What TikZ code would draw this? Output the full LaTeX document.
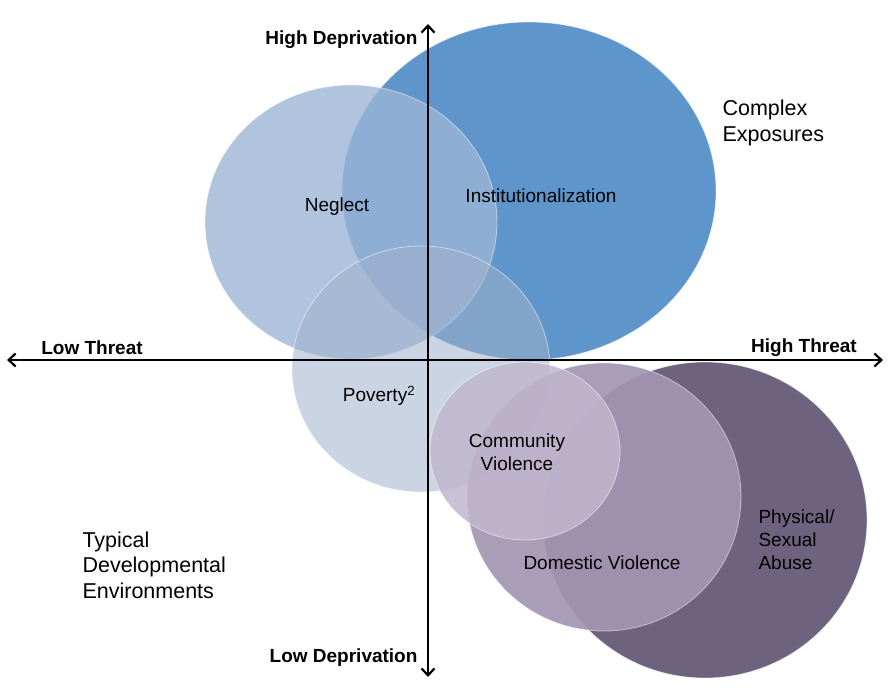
\documentclass[tikz,border=0pt]{standalone}
\usepackage{fontspec}
\setmainfont{Liberation Sans}
\usetikzlibrary{arrows.meta}
\definecolor{instblue}{RGB}{94,149,203}
\definecolor{neglectblue}{RGB}{156,181,214}
\definecolor{povertyblue}{RGB}{160,177,204}
\definecolor{abusepurple}{RGB}{110,99,126}
\definecolor{dompurple}{RGB}{162,149,178}
\definecolor{commpurple}{RGB}{192,183,207}

\tikzset{
  blob/.style={draw=white, draw opacity=0.5, line width=0.8pt},
  axis/.style={line width=2.2pt, {Straight Barb[length=7pt,width=13pt]}-{Straight Barb[length=7pt,width=13pt]}},
  axislabel/.style={font=\fontsize{19}{22}\selectfont\bfseries},
  tag/.style={font=\fontsize{19}{23}\selectfont, align=center},
  sidetag/.style={font=\fontsize{19}{23}\selectfont, align=left, anchor=west},
  cornertag/.style={font=\fontsize{21.5}{25.5}\selectfont, align=left, anchor=west}
}

\begin{document}
\begin{tikzpicture}[x=1pt,y=-1pt]
\useasboundingbox (0,0) rectangle (895,692);
% circles, deprivation side
\fill[blob, fill=instblue] (529,191) ellipse [x radius=187, y radius=169];
\fill[blob, fill=neglectblue, fill opacity=0.8] (351,222) ellipse [x radius=146, y radius=137];
\fill[blob, fill=povertyblue, fill opacity=0.55] (421,369) ellipse [x radius=129, y radius=123];
% circles, threat side
\fill[blob, fill=abusepurple] (705,520) ellipse [x radius=162, y radius=158];
\fill[blob, fill=dompurple, fill opacity=0.92] (604,497) ellipse [x radius=137, y radius=134];
\fill[blob, fill=commpurple, fill opacity=0.85] (525,451) ellipse [x radius=95, y radius=89];

% axes
\coordinate (lowdep) at (428,677);
\coordinate (highdep) at (428,24);
\coordinate (lowthr) at (7,360);
\coordinate (highthr) at (883,360);
\draw[axis] (lowdep) -- (highdep);
\draw[axis] (lowthr) -- (highthr);

% axis labels
\node[axislabel, anchor=east] (hd) at (421,40) {High Deprivation};
\node[axislabel, anchor=east] (ld) at (421,658) {Low Deprivation};
\node[axislabel] (lt) at (92,348) {Low Threat};
\node[axislabel] (ht) at (804,348) {High Threat};

% circle labels
\node[tag] (neglect) at (337,207) {Neglect};
\node[tag] (inst) at (541,196) {Institutionalization};
\node[tag] (poverty) at (379,396) {Poverty\textsuperscript{2}};
\node[tag] (comm) at (517,452) {Community\\Violence};
\node[tag] (dom) at (602,563) {Domestic Violence};
\node[sidetag] (abuse) at (755,540) {Physical/\\Sexual\\Abuse};

% corner labels
\node[cornertag] (complex) at (719,123) {Complex\\Exposures};
\node[cornertag] (typical) at (79,565) {Typical\\Developmental\\Environments};
\end{tikzpicture}
\end{document}
